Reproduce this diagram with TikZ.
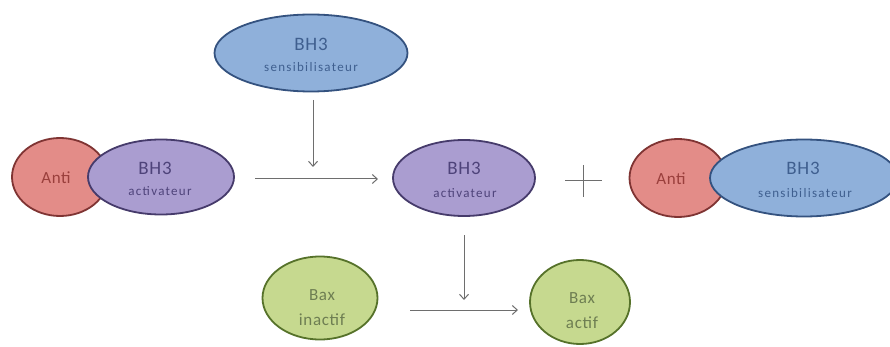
\documentclass[tikz,border=0pt]{standalone}
\usepackage{fontspec}
\setmainfont{Carlito}
\usetikzlibrary{arrows.meta,shapes.geometric}
\definecolor{bluefill}{HTML}{8FB0DA}
\definecolor{blueline}{HTML}{34527F}
\definecolor{bluetext}{HTML}{3F5F8F}
\definecolor{redfill}{HTML}{E38C88}
\definecolor{redline}{HTML}{7F3433}
\definecolor{redtext}{HTML}{9A3F3C}
\definecolor{purplefill}{HTML}{AA9DD0}
\definecolor{purpleline}{HTML}{463B6B}
\definecolor{purpletext}{HTML}{4E437A}
\definecolor{greenfill}{HTML}{C6D98F}
\definecolor{greenline}{HTML}{56722A}
\definecolor{greentext}{HTML}{6E7E52}
\definecolor{arrowgray}{HTML}{6E6E6E}
\tikzset{
  blob/.style={ellipse, line width=1.8pt, inner sep=0pt, outer sep=0pt},
  bluebh/.style={blob, fill=bluefill, draw=blueline},
  purplebh/.style={blob, fill=purplefill, draw=purpleline},
  antiblob/.style={blob, fill=redfill, draw=redline},
  baxblob/.style={blob, fill=greenfill, draw=greenline},
  bigtxt/.style={anchor=base, inner sep=0pt, font=\fontsize{19}{19}\selectfont\addfontfeature{LetterSpace=4}},
  smalltxt/.style={anchor=base, inner sep=0pt, font=\fontsize{13}{13}\selectfont\addfontfeature{LetterSpace=10}},
  antitxt/.style={anchor=base, inner sep=0pt, text=redtext, font=\fontsize{17}{17}\selectfont\addfontfeature{LetterSpace=4}},
  baxtxt/.style={anchor=base, inner sep=0pt, text=greentext, font=\fontsize{17}{17}\selectfont\addfontfeature{LetterSpace=4}},
  flow/.style={draw=arrowgray, line width=1pt, -{Straight Barb[length=5pt,width=9pt]}},
  plusline/.style={draw=arrowgray, line width=1pt}
}
\begin{document}
\begin{tikzpicture}[x=1pt,y=-1pt]
\useasboundingbox (0,0) rectangle (890,347);
% top
\node[bluebh, minimum width=193pt, minimum height=77pt] (top) at (311,53) {};
\node[bigtxt, text=bluetext] (topA) at (311,51) {BH3};
\node[smalltxt, text=bluetext] (topB) at (311,72) {sensibilisateur};
% left pair
\node[antiblob, minimum width=96pt, minimum height=78pt] (antiL) at (60,177) {};
\node[antitxt] (antiLt) at (56,184) {Anti};
\node[purplebh, minimum width=146pt, minimum height=75pt] (actL) at (161,177) {};
\node[bigtxt, text=purpletext] (actLA) at (155,175) {BH3};
\node[smalltxt, text=purpletext] (actLB) at (160,196) {activateur};
% middle
\node[purplebh, minimum width=142pt, minimum height=76pt] (actM) at (464,178) {};
\node[bigtxt, text=purpletext] (actMA) at (464,175) {BH3};
\node[smalltxt, text=purpletext] (actMB) at (465,197) {activateur};
% plus
\coordinate (plusc) at (583,181);
\draw[plusline] (565,181) -- (602,181);
\draw[plusline] (583,165) -- (583,197);
% right pair
\node[antiblob, minimum width=97pt, minimum height=78pt] (antiR) at (678,178) {};
\node[antitxt] (antiRt) at (671,185) {Anti};
\node[bluebh, minimum width=188pt, minimum height=77pt] (sensR) at (804,178) {};
\node[bigtxt, text=bluetext] (sensRA) at (803,175) {BH3};
\node[smalltxt, text=bluetext] (sensRB) at (805,197) {sensibilisateur};
% bax
\node[baxblob, minimum width=115pt, minimum height=83pt] (baxI) at (320,298) {};
\node[baxtxt] (baxIA) at (322,300) {Bax};
\node[baxtxt] (baxIB) at (322,325) {inactif};
\node[baxblob, minimum width=100pt, minimum height=84pt] (baxA) at (580,302) {};
\node[baxtxt] (baxAA) at (582,303) {Bax};
\node[baxtxt] (baxAB) at (582,328) {actif};
% arrows
\coordinate (h1s) at (255,179);
\coordinate (h1e) at (378,179);
\draw[flow] (h1s) -- (h1e);
\coordinate (v1s) at (313,100);
\coordinate (v1e) at (313,167);
\draw[flow] (v1s) -- (v1e);
\coordinate (v2s) at (464,235);
\coordinate (v2e) at (464,300);
\draw[flow] (v2s) -- (v2e);
\coordinate (h2s) at (410,310);
\coordinate (h2e) at (518,310);
\draw[flow] (h2s) -- (h2e);
\end{tikzpicture}
\end{document}
